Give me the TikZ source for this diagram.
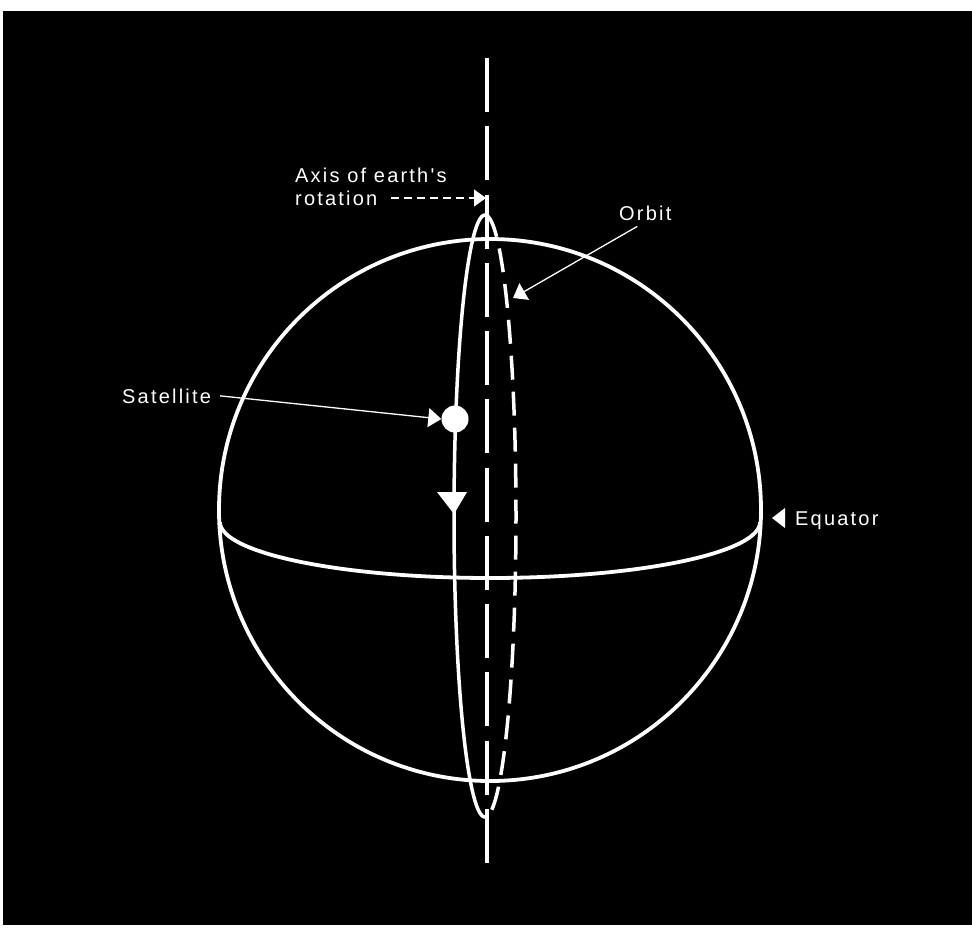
\documentclass[tikz,border=0pt]{standalone}
\usepackage{fontspec}
\setmainfont{Liberation Sans}
\newfontfamily\labfont[LetterSpace=11]{Liberation Sans}
\usetikzlibrary{arrows.meta}
\begin{document}
\begin{tikzpicture}[x=1pt,y=-1pt,
  lab/.style={text=white, font=\labfont\fontsize{20}{23}\selectfont, anchor=base west, inner sep=1pt},
  ptr/.style={white, line width=1.3pt, -{Triangle[length=13pt,width=19pt]}},
  dptr/.style={white, line width=1.3pt, dash pattern=on 8pt off 5pt, -{Triangle[length=12pt,width=17pt]}},
  globe/.style={white, line width=3.8pt},
  axisline/.style={white, line width=4pt, dash pattern=on 54pt off 14.25pt},
  orbsolid/.style={white, line width=3.5pt},
  orbdash/.style={white, line width=3.5pt, dash pattern=on 24pt off 12pt},
  satdot/.style={circle, fill=white, minimum size=27pt, inner sep=0pt}
]
\useasboundingbox (0,0) rectangle (972,927);
\fill[white] (0,0) rectangle (972,927);
\fill[black] (3,11) rectangle (972,925);

% sphere
\draw[globe] (490,510) circle[radius=271pt];
% equator
\draw[globe] plot[domain=0:180, samples=120, smooth] ({490+270*cos(\x)}, {522+56*sin(\x)});

% axis of rotation
\coordinate (axtop) at (487,58);
\coordinate (axbot) at (487,877);
\draw[axisline] (axtop) -- (axbot);

% orbit
\draw[orbsolid] plot[domain=90:270, samples=150, smooth] ({485+31*cos(\x)}, {516+301*sin(\x)});
\draw[orbdash] plot[domain=-87:87, samples=150, smooth] ({485+31*cos(\x)}, {516+301*sin(\x)});

% direction of travel
\fill[white] (437,492) -- (467,492) -- (454,514) -- cycle;

% satellite
\node[satdot] (sat) at (455,419) {};

% labels
\node[lab] (ax1) at (294,182) {Axis of earth's};
\node[lab] (ax2) at (294,205) {rotation};
\node[lab] (orb) at (618,220) {Orbit};
\node[lab] (satl) at (121,403) {Satellite};
\node[lab] (eq) at (794,525) {Equator};

% pointers
\coordinate (axtip) at (486,198);
\draw[dptr] ([xshift=12pt]ax2.east |- axtip) -- (axtip);
\draw[ptr] ([xshift=8pt]satl.east) -- (sat.west);
\coordinate (orbtip) at (513,298);
\draw[ptr] ([xshift=-8pt,yshift=-5pt]orb.south) -- (orbtip);
\fill[white] (785,508) -- (785,528) -- (772,518) -- cycle;
\end{tikzpicture}
\end{document}
